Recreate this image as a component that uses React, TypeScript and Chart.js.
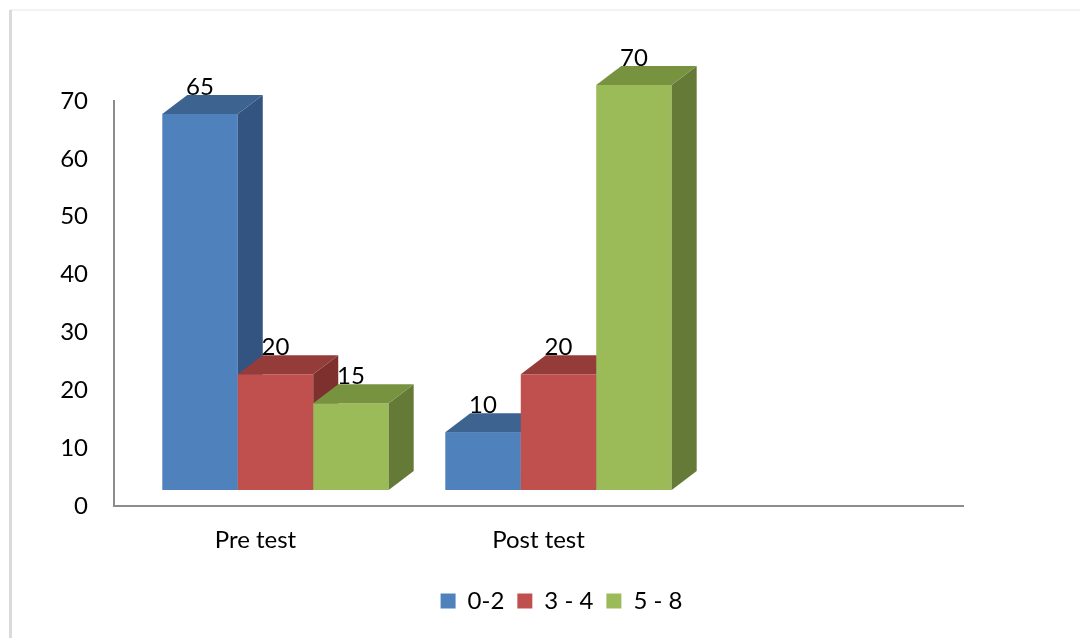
import React, { useEffect, useRef } from "react";
import { Chart, registerables } from "chart.js";

Chart.register(...registerables);

const categories = ["Pre test", "Post test", ""];
const seriesNames = ["0-2", "3 - 4", "5 - 8"];
const series02 = [65, 10, null];
const series34 = [20, 20, null];
const series58 = [15, 70, null];
const yTicks = [0, 10, 20, 30, 40, 50, 60, 70];

const frontColors = ["#4F81BD", "#C0504D", "#9BBB59"];
const topColors = ["#3D6391", "#943C3A", "#779340"];
const sideColors = ["#335480", "#7D302E", "#667A38"];

const FONT = "Lato, 'Open Sans', sans-serif";
const FS = 24;
const DX = 25;
const DY = -19;
const SHIFT_X = 20;
const SHIFT_Y = -16;
const LEGEND_SHIFT = 80;

const threeD = {
  id: "threeD",
  afterLayout(chart: any) {
    const lg = chart.legend;
    if (lg) {
      lg.left += LEGEND_SHIFT;
      lg.right += LEGEND_SHIFT;
    }
  },
  beforeDatasetDraw() {
    // the flat bars are replaced by the 3D bars painted below
    return false;
  },
  afterDatasetsDraw(chart: any) {
    const ctx = chart.ctx;
    ctx.save();
    ctx.translate(SHIFT_X, SHIFT_Y);
    const n = chart.data.datasets.length;
    for (let i = 0; i < n; i++) {
      const meta = chart.getDatasetMeta(i);
      meta.data.forEach((el: any, j: number) => {
        const v = chart.data.datasets[i].data[j];
        if (v === null || v === undefined) return;
        const x0 = el.x - el.width / 2;
        const x1 = el.x + el.width / 2;
        const yt = el.y;
        const yb = el.base;
        ctx.fillStyle = frontColors[i];
        ctx.fillRect(x0, yt, x1 - x0, yb - yt);
        ctx.beginPath();
        ctx.moveTo(x1, yt);
        ctx.lineTo(x1 + DX, yt + DY);
        ctx.lineTo(x1 + DX, yb + DY);
        ctx.lineTo(x1, yb);
        ctx.closePath();
        ctx.fillStyle = sideColors[i];
        ctx.fill();
        ctx.beginPath();
        ctx.moveTo(x0, yt);
        ctx.lineTo(x1, yt);
        ctx.lineTo(x1 + DX, yt + DY);
        ctx.lineTo(x0 + DX, yt + DY);
        ctx.closePath();
        ctx.fillStyle = topColors[i];
        ctx.fill();
      });
    }
    ctx.fillStyle = "#000";
    ctx.font = `${FS}px ${FONT}`;
    ctx.textAlign = "center";
    ctx.textBaseline = "middle";
    for (let i = 0; i < n; i++) {
      const meta = chart.getDatasetMeta(i);
      meta.data.forEach((el: any, j: number) => {
        const v = chart.data.datasets[i].data[j];
        if (v === null || v === undefined) return;
        ctx.fillText(String(v), el.x, el.y - 27);
      });
    }
    ctx.restore();
  },
};

const frame = {
  id: "frame",
  beforeDraw(chart: any) {
    const ctx = chart.ctx;
    ctx.save();
    ctx.fillStyle = "#ffffff";
    ctx.fillRect(0, 0, chart.width, chart.height);
    ctx.fillStyle = "#f3f3f3";
    ctx.fillRect(10, 9, chart.width - 10, 2);
    ctx.fillStyle = "#dadada";
    ctx.fillRect(9, 10, 3, chart.height - 10);
    ctx.restore();
  },
};

export default function App() {
  const ref = useRef<HTMLCanvasElement>(null);
  useEffect(() => {
    const mk = (data: (number | null)[], k: number) => ({
      label: seriesNames[k],
      data,
      backgroundColor: frontColors[k],
      borderWidth: 0,
      categoryPercentage: 0.8,
      barPercentage: 1.0,
    });
    const chart = new Chart(ref.current as HTMLCanvasElement, {
      type: "bar",
      data: {
        labels: categories,
        datasets: [mk(series02, 0), mk(series34, 1), mk(series58, 2)],
      },
      options: {
        animation: false,
        responsive: false,
        devicePixelRatio: 1,
        layout: { padding: { top: 101, right: 117, left: 0, bottom: 15 } },
        plugins: {
          tooltip: { enabled: false },
          legend: {
            position: "bottom",
            labels: {
              boxWidth: 15,
              boxHeight: 15,
              padding: 13,
              color: "#000",
              font: { family: FONT, size: FS },
            },
          },
        },
        scales: {
          x: {
            grid: { display: false, drawTicks: false },
            border: { display: true, color: "#8c8c8c", width: 2 },
            ticks: { color: "#000", font: { family: FONT, size: FS }, padding: 20, maxRotation: 0 },
            afterFit: (s: any) => {
              s.height = 70;
            },
          },
          y: {
            min: 0,
            max: 70,
            grid: { display: false, drawTicks: false },
            border: { display: true, color: "#8c8c8c", width: 2 },
            afterBuildTicks: (s: any) => {
              s.ticks = yTicks.map((v) => ({ value: v }));
            },
            ticks: { color: "#000", font: { family: FONT, size: FS }, padding: 26 },
            afterFit: (s: any) => {
              s.width = 114;
            },
          },
        },
      },
      plugins: [frame, threeD],
    });
    return () => chart.destroy();
  }, []);
  return (
    <div style={{ position: "fixed", left: 0, top: 0, width: 1080, height: 638, background: "#fff" }}>
      <canvas ref={ref} width={1080} height={638} style={{ display: "block" }} />
    </div>
  );
}
